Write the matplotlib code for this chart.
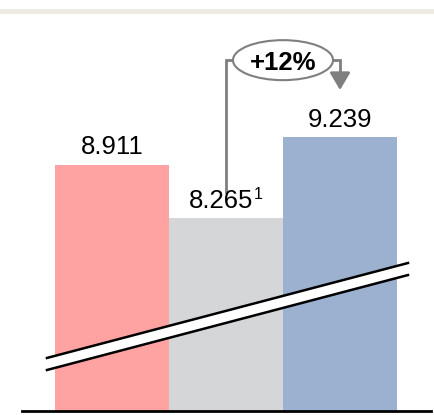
import matplotlib
matplotlib.use("Agg")
import matplotlib.pyplot as plt
from matplotlib.patches import Ellipse, Rectangle, Polygon

plt.rcParams['font.family'] = ['Liberation Sans', 'DejaVu Sans']

# data
values = [8.911, 8.265, 9.239]
labels = ["8.911", "8.265", "9.239"]
footnotes = ["", "1", ""]
colors = ["#FFA2A2", "#D5D6D8", "#9CB0CF"]
growth_label = "+12%"

W, H, DPI = 435, 415, 100
fig = plt.figure(figsize=(W / DPI, H / DPI), dpi=DPI)
ax = fig.add_axes([0, 4 / H, 1, 411 / H])
ax.set_axis_off()

# broken axis: the bars start at ~5.94, not zero
y0 = 5.942
ax.set_ylim(y0, y0 + 411 / 83.0)
ax.set_xlim(-0.982, 2.833)

x = list(range(len(values)))
ax.bar(x, [v - y0 for v in values], bottom=y0, width=1.0, color=colors, zorder=1)

for xi, v, lab, fn in zip(x, values, labels, footnotes):
    dx = -3.5 if fn else 0
    t = ax.annotate(lab, (xi, v), xytext=(dx, 7.5), textcoords="offset points",
                    ha="center", va="baseline", fontsize=18.5, color="black", zorder=5)
    if fn:
        # footnote mark, top aligned with the digits
        ax.annotate(fn, (1, 0), xycoords=t, xytext=(0.3, 9.8), textcoords="offset points",
                    ha="left", va="baseline", fontsize=11.5, color="black", zorder=5)

# baseline
ax.plot([-0.79, 2.80], [y0, y0], color="black", lw=2, clip_on=False, zorder=4)

# axis break band
bx = [-0.57, 2.596]
top = [6.581, 7.725]
gap = 0.145
poly = Polygon([(bx[0], top[0]), (bx[1], top[1]), (bx[1], top[1] - gap), (bx[0], top[0] - gap)],
               closed=True, facecolor="white", edgecolor="none", zorder=3)
ax.add_patch(poly)
ax.plot(bx, top, color="black", lw=1.8, zorder=4)
ax.plot(bx, [t - gap for t in top], color="black", lw=1.8, zorder=4)

# growth bracket from bar 2 to bar 3
gcol = "#7F7F7F"
yb = max(values) + 0.93
ax.plot([1, 1, 1.5], [values[1] + 0.315, yb, yb], color=gcol, lw=2, zorder=4,
        solid_joinstyle="miter")
ax.plot([1.5, 2, 2], [yb, yb, values[2] + 0.75], color=gcol, lw=2, zorder=4,
        solid_joinstyle="miter")
ax.annotate("", xy=(2, values[2] + 0.57), xytext=(2, values[2] + 0.78),
            arrowprops=dict(arrowstyle="-|>,head_length=1.05,head_width=0.62",
                            color=gcol, lw=2, shrinkA=0, shrinkB=0), zorder=4)
ell = Ellipse((1.5, yb), width=100 / 114.0, height=40 / 83.0, facecolor="white",
              edgecolor=gcol, lw=1.5, zorder=5)
ax.add_patch(ell)
ax.text(1.5, yb, growth_label, ha="center", va="center_baseline", fontsize=18.5,
        fontweight="bold", color="black", zorder=6)

# top band
fig.patches.append(Rectangle((0, (H - 14.5) / H), 1, 5.5 / H, transform=fig.transFigure,
                             facecolor="#EEEBE3", edgecolor="none"))

fig.savefig("out.png", dpi=DPI)
